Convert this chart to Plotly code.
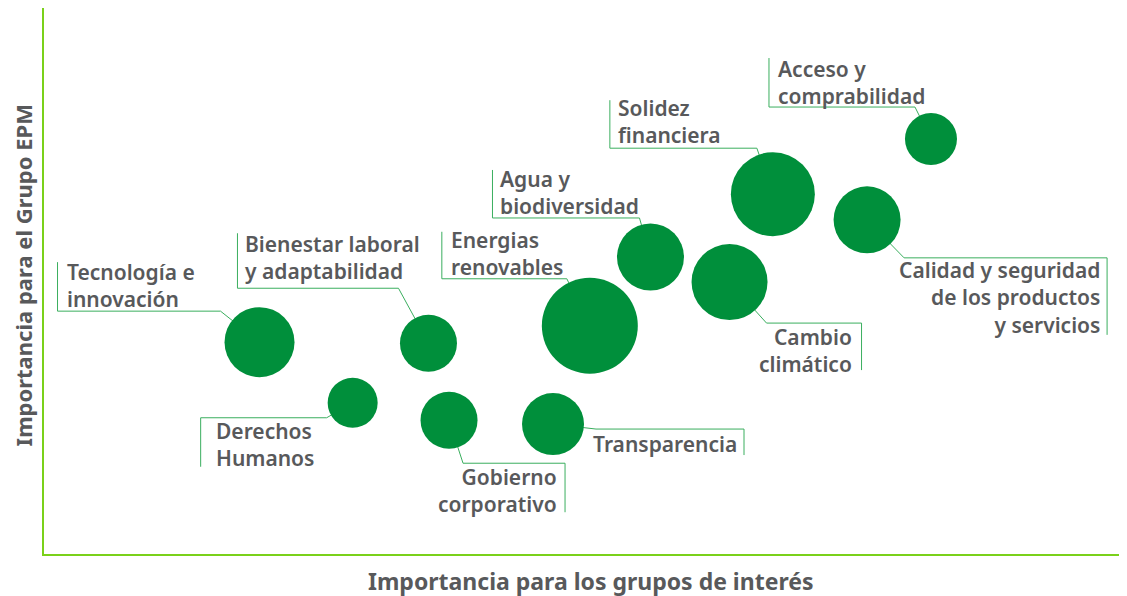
import plotly.graph_objects as go

# Temas materiales: importancia para grupos de interés (x) y para el Grupo EPM (y)
temas = [
    "Tecnología e<br>innovación",
    "Bienestar laboral<br>y adaptabilidad",
    "Derechos<br>Humanos",
    "Gobierno<br>corporativo",
    "Transparencia",
    "Energias<br>renovables",
    "Agua y<br>biodiversidad",
    "Cambio<br>climático",
    "Solidez<br>financiera",
    "Calidad y seguridad<br>de los productos<br>y servicios",
    "Acceso y<br>comprabilidad",
]
imp_grupos = [19.9, 35.5, 28.5, 37.4, 47.0, 50.4, 56.0, 63.3, 67.3, 76.0, 81.9]
imp_epm = [38.8, 38.6, 27.7, 24.5, 23.8, 41.8, 54.4, 49.8, 65.9, 61.2, 76.0]
tamano = [70, 57, 50, 57, 62, 96, 67, 76, 84, 67, 52]

# layout of the callouts, in pixels relative to each bubble centre
# elbow: end of the diagonal, corner: x of the bracket, bar: length of vertical bar
# side: text above ("up") or below ("down") the line, align of text, text_dy: text centre vs line
callouts = [
    dict(elbow=(-39, -31), corner=-202, bar=49, side="up", align="left", text_dy=-26, pad=7),
    dict(elbow=(-30, -55), corner=-191, bar=55, side="up", align="left", text_dy=-31, pad=6),
    dict(elbow=(-26, 15), corner=-152, bar=49, side="down", align="left", text_dy=27, pad=13),
    dict(elbow=(14, 43), corner=116, bar=49, side="down", align="right", text_dy=27, pad=6),
    dict(elbow=(43, 5), corner=191, bar=26, side="down", align="right", text_dy=15, pad=5),
    dict(elbow=(-23, -47), corner=-148, bar=47, side="up", align="left", text_dy=-25, pad=7),
    dict(elbow=(-11, -39), corner=-158, bar=48, side="up", align="left", text_dy=-25, pad=6),
    dict(elbow=(37, 41), corner=132, bar=47, side="down", align="right", text_dy=27, pad=8),
    dict(elbow=(-16, -46), corner=-163, bar=48, side="up", align="left", text_dy=-27, pad=6),
    dict(elbow=(37, 38), corner=240, bar=77, side="down", align="right", text_dy=40, pad=5),
    dict(elbow=(-16, -32), corner=-162, bar=49, side="up", align="left", text_dy=-25, pad=7),
]

# page body has an 8px margin, so the figure is a bit smaller than the window
W, H = 1119, 588
ML, MR, MT, MB = 36, 0, 0, 42
PW, PH = W - ML - MR, H - MT - MB
ux = 100 / PW  # data units per pixel
uy = 100 / PH

BUBBLE = "#008f3b"
LEADER = "#3aae5e"
AXIS = "#7ad11a"
TEXT = "#58595b"
FONT = "Noto Sans"

fig = go.Figure()

annotations = []
for i, c in enumerate(callouts):
    x0, y0 = imp_grupos[i], imp_epm[i]
    ex = x0 + c["elbow"][0] * ux
    ey = y0 - c["elbow"][1] * uy
    cx = x0 + c["corner"] * ux
    sign = 1 if c["side"] == "up" else -1
    by = ey + sign * c["bar"] * uy
    fig.add_trace(go.Scatter(
        x=[x0, ex, cx, cx], y=[y0, ey, ey, by],
        mode="lines", line=dict(color=LEADER, width=1),
        hoverinfo="skip", showlegend=False))
    tx = cx + (c["pad"] if c["align"] == "left" else -c["pad"]) * ux
    ty = ey - c["text_dy"] * uy
    annotations.append(dict(
        x=tx, y=ty, xref="x", yref="y", text=temas[i], showarrow=False,
        xanchor=c["align"], yanchor="middle", align=c["align"],
        font=dict(family=FONT, size=21, color=TEXT, weight=600)))

fig.add_trace(go.Scatter(
    x=imp_grupos, y=imp_epm, mode="markers",
    marker=dict(size=tamano, sizemode="diameter", color=BUBBLE, line=dict(width=0), opacity=1),
    text=[t.replace("<br>", " ") for t in temas], hoverinfo="text", showlegend=False))

annotations.append(dict(
    x=0.505, y=-0.05, xref="paper", yref="paper", text="Importancia para los grupos de interés",
    showarrow=False, xanchor="center", yanchor="middle",
    font=dict(family=FONT, size=23, color=TEXT, weight=700)))
annotations.append(dict(
    x=-0.0195, y=0.51, xref="paper", yref="paper", text="Importancia para el Grupo EPM",
    showarrow=False, xanchor="center", yanchor="middle", textangle=-90,
    font=dict(family=FONT, size=22, color=TEXT, weight=700)))

fig.update_xaxes(range=[0, 100], showgrid=False, zeroline=False, showticklabels=False,
                 showline=True, linecolor=AXIS, linewidth=2, ticks="")
fig.update_yaxes(range=[0, 100], showgrid=False, zeroline=False, showticklabels=False,
                 showline=True, linecolor=AXIS, linewidth=2, ticks="")
fig.update_layout(
    width=W, height=H, margin=dict(l=ML, r=MR, t=MT, b=MB),
    plot_bgcolor="white", paper_bgcolor="white",
    annotations=annotations)

fig.write_html("out.html")
